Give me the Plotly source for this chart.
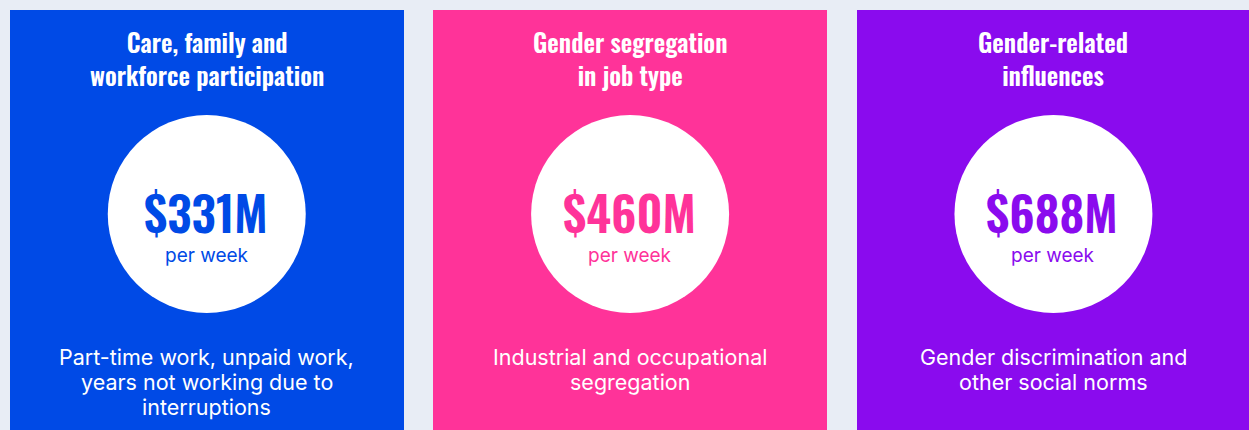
import plotly.graph_objects as go

# ---- data ----
categories = [["Care, family and", "workforce participation"],
              ["Gender segregation", "in job type"],
              ["Gender-related", "influences"]]
values_m = [331, 460, 688]
unit_label = "per week"
descriptions = [["Part-time work, unpaid work,", "years not working due to", "interruptions"],
                ["Industrial and occupational", "segregation"],
                ["Gender discrimination and", "other social norms"]]
colors = ["#004AE6", "#FF3399", "#8A0BEE"]

# ---- layout constants ----
W, H = 1249, 430
panel_left0 = 10
panel_w = 393.5
panel_step = 423.35
panel_top = 10
centers = [panel_left0 + panel_w / 2 + i * panel_step for i in range(len(categories))]

cond_font = "Oswald, Roboto Condensed, sans-serif"
body_font = "Inter, Roboto, Noto Sans, sans-serif"

fig = go.Figure()
fig.add_trace(go.Bar(
    x=centers, y=[H + 20 - panel_top] * 3, base=[panel_top] * 3,
    width=[panel_w] * 3, marker=dict(color=colors, line=dict(width=0)),
    hoverinfo="skip", showlegend=False))
fig.add_trace(go.Scatter(
    x=centers, y=[214] * 3, mode="markers",
    marker=dict(size=198, color="white", line=dict(width=0)),
    hoverinfo="skip", showlegend=False))

ann = []
for cx, cat, v, d, c in zip(centers, categories, values_m, descriptions, colors):
    ann.append(dict(x=cx, y=57.5, text="<br>".join(cat), showarrow=False,
                    font=dict(family=cond_font, size=25, color="white", weight=600),
                    xanchor="center", yanchor="middle", align="center"))
    ann.append(dict(x=cx - 1, y=211, text=f"${v}M", showarrow=False,
                    font=dict(family=cond_font, size=48, color=c, weight=600),
                    height=60, valign="middle",
                    xanchor="center", yanchor="middle"))
    ann.append(dict(x=cx, y=255, text=unit_label, showarrow=False,
                    font=dict(family=body_font, size=19, color=c),
                    xanchor="center", yanchor="middle"))
    for j, line in enumerate(d):
        ann.append(dict(x=cx, y=357 + j * 25, text=line, showarrow=False,
                        font=dict(family=body_font, size=21.5, color="white"),
                        xanchor="center", yanchor="middle"))

fig.update_layout(
    width=W, height=H, margin=dict(l=0, r=0, t=0, b=0),
    paper_bgcolor="#E8EDF5", plot_bgcolor="#E8EDF5",
    xaxis=dict(range=[0, W], visible=False, fixedrange=True),
    yaxis=dict(range=[H, 0], visible=False, fixedrange=True),
    annotations=ann, bargap=0,
)
fig.write_html("out.html", config={"displayModeBar": False},
               post_script="document.body.style.margin='0';")
